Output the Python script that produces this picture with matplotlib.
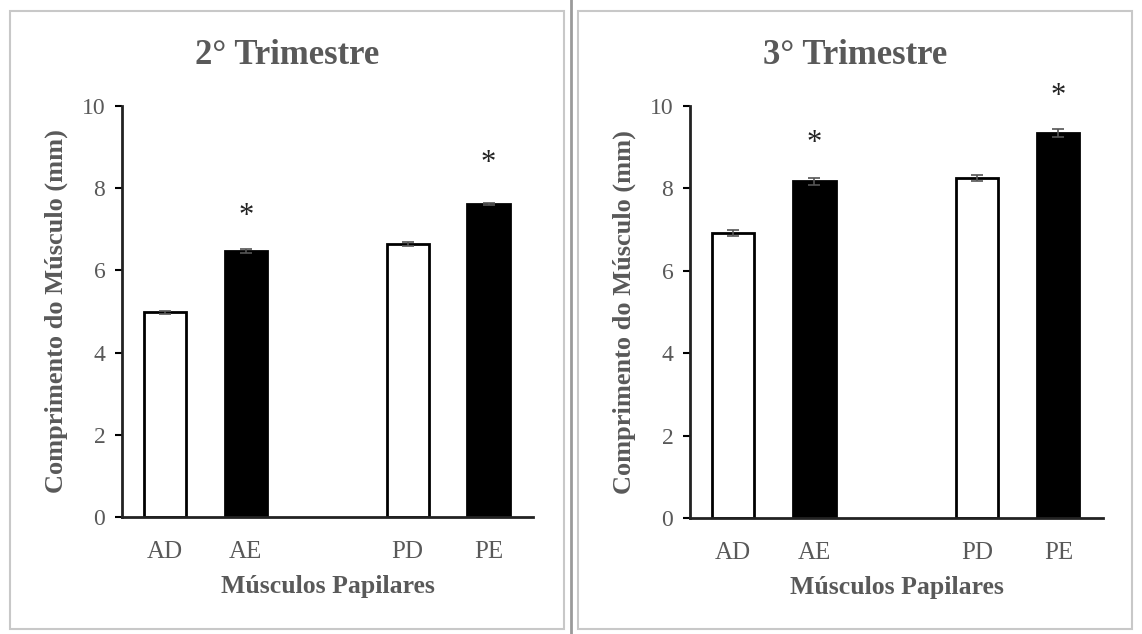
import matplotlib

matplotlib.use("Agg")
import matplotlib.pyplot as plt
from matplotlib.patches import Rectangle
from matplotlib.lines import Line2D

# data
groups = ["AD", "AE", "PD", "PE"]
positions = [0, 1, 3, 4]
fills = ["white", "black", "white", "black"]
titles = ["2° Trimestre", "3° Trimestre"]
means_2tri = [4.98, 6.47, 6.64, 7.62]
errs_2tri = [0.04, 0.04, 0.05, 0.03]
means_3tri = [6.92, 8.17, 8.25, 9.34]
errs_3tri = [0.08, 0.08, 0.07, 0.09]
signif = [False, True, False, True]
# vertical gap between error bar top and the asterisk, per bar
star_gap_2tri = [0, 0.8, 0, 0.95]
star_gap_3tri = [0, 0.83, 0, 0.79]

plt.rcParams.update({
    "font.family": ["Liberation Serif", "DejaVu Serif"],
    "figure.dpi": 100,
})
GRAY = "#595959"
W, H = 1142, 634

fig = plt.figure(figsize=(W / 100, H / 100), dpi=100)
fig.patch.set_facecolor("white")


def px_rect(x0, y0, x1, y1):
    # pixel box (top-left origin) -> figure fraction rect
    return [x0 / W, 1 - y1 / H, (x1 - x0) / W, (y1 - y0) / H]


# panel frames
for x0, x1 in [(10, 564), (578, 1132)]:
    fig.patches.append(Rectangle((x0 / W, 1 - 629 / H), (x1 - x0) / W, (629 - 11) / H,
                                 transform=fig.transFigure, fill=False,
                                 edgecolor="#c8c8c8", linewidth=1.5))
fig.lines.append(Line2D([571 / W, 571 / W], [0, 1], transform=fig.transFigure,
                        color="#9a9a9a", linewidth=2))

panels = [
    (px_rect(122, 106, 533, 517), means_2tri, errs_2tri, star_gap_2tri, 287),
    (px_rect(690, 106, 1103, 518), means_3tri, errs_3tri, star_gap_3tri, 855),
]

for (rect, means, errs, gaps, cx), title in zip(panels, titles):
    ax = fig.add_axes(rect)
    ax.bar(positions, means, width=0.52, color=fills, edgecolor="black",
           linewidth=2, zorder=2)
    ax.errorbar(positions, means, yerr=errs, fmt="none", ecolor="#555555",
                elinewidth=1.2, capsize=4, capthick=1.2, zorder=3)
    for p, m, e, s, g in zip(positions, means, errs, signif, gaps):
        if s:
            ax.text(p, m + e + g, "*", ha="center", va="center",
                    fontsize=22, color="#222222")
    ax.set_xlim(-0.53, 4.55)
    ax.set_ylim(0, 10)
    ax.set_yticks([0, 2, 4, 6, 8, 10])
    ax.set_xticks(positions)
    ax.set_xticklabels(groups)
    ax.tick_params(axis="x", length=0, pad=17, labelsize=18, labelcolor=GRAY)
    ax.tick_params(axis="y", length=5, width=1.5, direction="out", pad=7,
                   labelsize=17, labelcolor=GRAY)
    for side in ["top", "right"]:
        ax.spines[side].set_visible(False)
    for side in ["left", "bottom"]:
        ax.spines[side].set_linewidth(2)
        ax.spines[side].set_color("#222222")
    ax.set_xlabel("Músculos Papilares", fontsize=18.5, fontweight="bold",
                  color=GRAY, labelpad=9)
    ax.set_ylabel("Comprimento do Músculo (mm)", fontsize=19, fontweight="bold",
                  color=GRAY, labelpad=10)
    fig.text(cx / W, 1 - 56 / H, title, ha="center", va="center",
             fontsize=25, fontweight="bold", color=GRAY)

fig.savefig("out.png", dpi=100, facecolor="white")
